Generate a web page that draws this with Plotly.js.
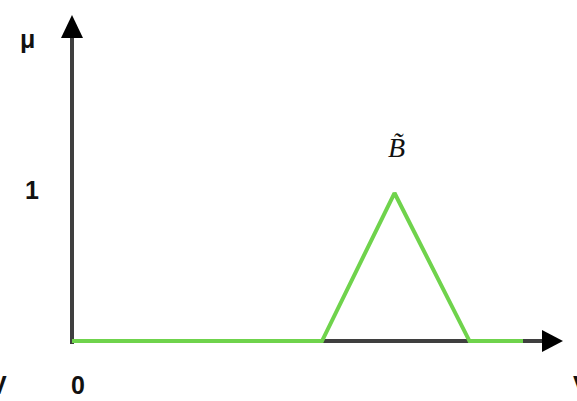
<!DOCTYPE html>
<html>
<head>
<meta charset="utf-8">
<script src="https://cdn.plot.ly/plotly-3.0.1.min.js"></script>
<style>
  html, body { margin: 0; padding: 0; background: #fff; }
  #chart { width: 577px; height: 401px; }
</style>
</head>
<body>
<div id="chart"></div>
<script>
// Triangular fuzzy number B~ drawn on the universe V
const universe = [0, 5, 6.45, 7.95, 9.02];
const membership = [0, 0, 1, 0, 0];

// Axis extents (arrow base and tip) in data units
const xAxisEnd = 9.46, xAxisTip = 9.82;
const yAxisEnd = 2.047, yAxisTip = 2.203;

// Label texts
const yAxisLabel = 'μ';
const xAxisLabel = 'V';
const yTickLabel = '1';
const xTickLabel = '0';
const setLabel = '<i>B̃</i>';

const green = '#6fd34c';
const axisColor = '#3f3f3f';
const labelFont = { family: 'Liberation Sans', size: 25, color: '#111', weight: 'bold' };

const trace = {
  x: universe,
  y: membership,
  type: 'scatter',
  mode: 'lines',
  line: { color: green, width: 4 },
  hoverinfo: 'skip'
};

const shapes = [
  { type: 'line', layer: 'below', xref: 'x', yref: 'y', x0: 0, y0: 0, x1: xAxisEnd, y1: 0,
    line: { color: axisColor, width: 4 } },
  { type: 'line', layer: 'below', xref: 'x', yref: 'y', x0: 0, y0: -0.02, x1: 0, y1: yAxisEnd,
    line: { color: axisColor, width: 4 } },
  { type: 'path', xref: 'x', yref: 'y',
    path: `M ${xAxisEnd - 0.06} 0.074 L ${xAxisTip} 0 L ${xAxisEnd - 0.06} -0.074 Z`,
    fillcolor: '#000', line: { width: 0 } },
  { type: 'path', xref: 'x', yref: 'y',
    path: `M -0.22 ${yAxisEnd} L 0 ${yAxisTip} L 0.22 ${yAxisEnd} Z`,
    fillcolor: '#000', line: { width: 0 } }
];

const annotations = [
  { x: -0.9, y: 2.04, text: yAxisLabel, font: labelFont },
  { x: -0.8, y: 1.02, text: yTickLabel, font: labelFont },
  { x: 0.12, y: -0.3, text: xTickLabel, font: labelFont },
  { x: -1.27, y: -0.3, text: xAxisLabel, font: labelFont, xanchor: 'right' },
  { x: 9.98, y: -0.3, text: xAxisLabel, font: labelFont, xanchor: 'left' },
  { x: 6.48, y: 1.31, text: setLabel,
    font: { family: 'Liberation Serif', size: 28, color: '#111' } }
].map(a => Object.assign({ xref: 'x', yref: 'y', showarrow: false }, a));

const layout = {
  width: 577,
  height: 401,
  margin: { l: 0, r: 0, t: 0, b: 0 },
  paper_bgcolor: '#fff',
  plot_bgcolor: '#fff',
  showlegend: false,
  xaxis: { range: [-1.44, 10.1], visible: false, fixedrange: true },
  yaxis: { range: [-0.405, 2.304], visible: false, fixedrange: true },
  shapes: shapes,
  annotations: annotations
};

Plotly.newPlot('chart', [trace], layout, { staticPlot: true, displayModeBar: false });
</script>
</body>
</html>
